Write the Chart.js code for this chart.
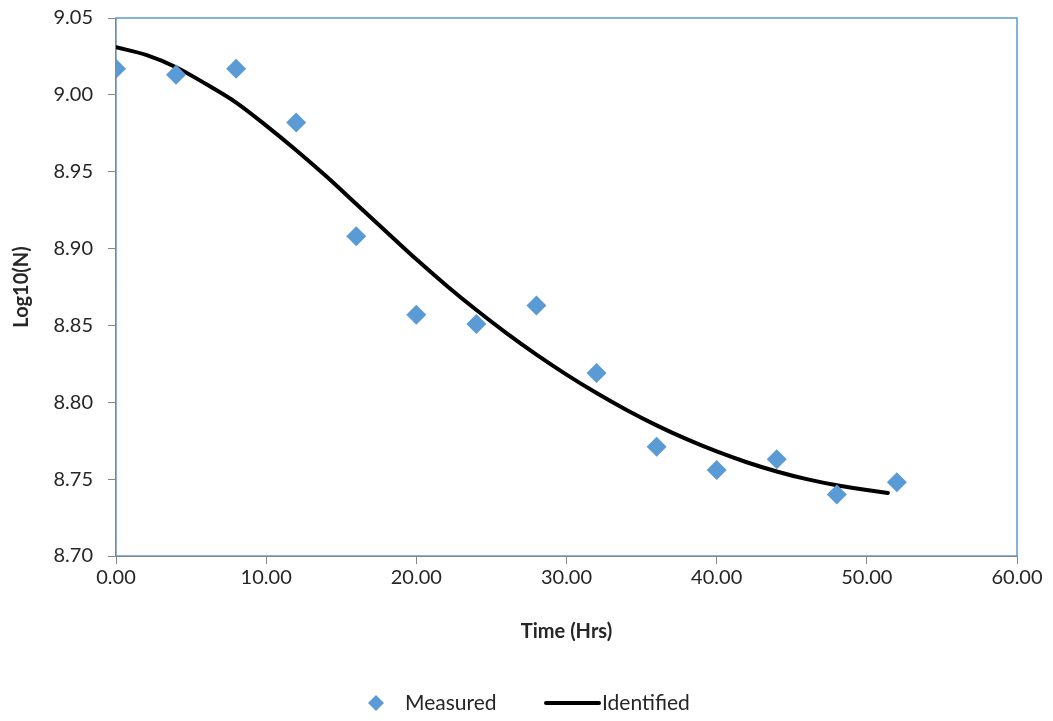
<!DOCTYPE html>
<html>
<head>
<meta charset="utf-8">
<script src="https://cdn.jsdelivr.net/npm/chart.js@4"></script>
<style>
  html, body { margin: 0; padding: 0; background: #fff; }
  #wrap { width: 1053px; height: 721px; }
</style>
</head>
<body>
<div id="wrap"><canvas id="chart" width="1053" height="721"></canvas></div>
<script>
// measured points
var measuredTime = [0, 4, 8, 12, 16, 20, 24, 28, 32, 36, 40, 44, 48, 52];
var measuredLog = [9.017, 9.013, 9.017, 8.982, 8.908, 8.857, 8.851, 8.863, 8.819, 8.771, 8.756, 8.763, 8.740, 8.748];

// identified (model) curve
var modelTime = [0, 2, 4, 6, 8, 10, 12, 14, 16, 18, 20, 22, 24, 26, 28, 30, 32, 34, 36, 38, 40, 42, 44, 46, 48, 50, 51.4];
var modelLog = [9.031, 9.026, 9.018, 9.007, 8.995, 8.980, 8.964, 8.947, 8.929, 8.911, 8.893, 8.876, 8.860, 8.845, 8.831, 8.818, 8.806, 8.795, 8.785, 8.776, 8.768, 8.761, 8.755, 8.750, 8.746, 8.743, 8.741];

var seriesNames = ["Measured", "Identified"];

var xTitle = "Time (Hrs)";
var yTitle = "Log10(N)";

function toPoints(xs, ys) {
    var pts = [];
    for (var i = 0; i < xs.length; i++)
        pts.push({x: xs[i], y: ys[i]});
    return pts;
}

var blue = "#5B9BD5";
var axisGrey = "#868686";
var textColor = "#262626";
var fontName = "Lato, 'Open Sans', sans-serif";

// blue frame round the plot area, grey axis lines on left and bottom
var frame = {
    id: "frame",
    beforeDatasetsDraw: function(chart) {
        var a = chart.chartArea, c = chart.ctx;
        c.save();
        c.strokeStyle = blue;
        c.lineWidth = 1.5;
        c.strokeRect(a.left, a.top, a.right - a.left, a.bottom - a.top);
        c.strokeStyle = axisGrey;
        c.lineWidth = 1;
        c.beginPath();
        c.moveTo(a.left - 0.5, a.top);
        c.lineTo(a.left - 0.5, a.bottom + 0.5);
        c.lineTo(a.right, a.bottom + 0.5);
        c.stroke();
        c.restore();
    }
};

// legend drawn below the x axis title, like the spreadsheet one
var legendBox = {
    id: "legendBox",
    afterDraw: function(chart) {
        var c = chart.ctx;
        var y = 703;
        c.save();
        c.font = "21px " + fontName;
        c.textBaseline = "middle";
        // measured: diamond
        c.fillStyle = blue;
        c.beginPath();
        c.moveTo(376, y - 8);
        c.lineTo(384, y);
        c.lineTo(376, y + 8);
        c.lineTo(368, y);
        c.closePath();
        c.fill();
        c.fillStyle = textColor;
        c.fillText(seriesNames[0], 405, y);
        // identified: line
        c.strokeStyle = "#000";
        c.lineWidth = 4;
        c.lineCap = "round";
        c.beginPath();
        c.moveTo(546, y);
        c.lineTo(599, y);
        c.stroke();
        c.fillText(seriesNames[1], 602, y);
        c.restore();
    }
};

var ctx = document.getElementById("chart").getContext("2d");
var chart = new Chart(ctx, {
    type: "scatter",
    data: {
        datasets: [{
            label: seriesNames[0],
            data: toPoints(measuredTime, measuredLog),
            pointStyle: "rectRot",
            pointRadius: 10,
            backgroundColor: blue,
            borderColor: blue,
            borderWidth: 0,
            order: 1
        }, {
            label: seriesNames[1],
            data: toPoints(modelTime, modelLog),
            showLine: true,
            borderColor: "#000",
            backgroundColor: "#000",
            borderWidth: 4,
            pointRadius: 0,
            cubicInterpolationMode: "monotone",
            borderCapStyle: "round",
            order: 2
        }]
    },
    options: {
        responsive: false,
        animation: false,
        layout: { padding: { left: 0, right: 36, top: 18, bottom: 75 } },
        plugins: {
            tooltip: { enabled: false },
            legend: { display: false }
        },
        scales: {
            x: {
                type: "linear",
                min: 0, max: 60,
                border: { display: false },
                grid: { drawOnChartArea: false, color: axisGrey, tickLength: 8 },
                ticks: {
                    stepSize: 10, color: textColor, padding: 2,
                    font: { family: fontName, size: 20 },
                    callback: function(v) { return v.toFixed(2); }
                },
                title: {
                    display: true, text: xTitle, color: textColor,
                    font: { family: fontName, size: 20, weight: "bold" },
                    padding: { top: 0, bottom: 2 }
                },
                afterFit: function(axis) { axis.height = 90; }
            },
            y: {
                min: 8.70, max: 9.05,
                border: { display: false },
                grid: { drawOnChartArea: false, color: axisGrey, tickLength: 8 },
                ticks: {
                    stepSize: 0.05, color: textColor, padding: 15,
                    font: { family: fontName, size: 20 },
                    callback: function(v) { return v.toFixed(2); }
                },
                title: {
                    display: true, text: yTitle, color: textColor,
                    font: { family: fontName, size: 20, weight: "bold" },
                    padding: { top: 10, bottom: 0 }
                },
                afterFit: function(axis) {
                    axis.width = 116;
                    // the tick padding shouldn't push the plot area down
                    axis.paddingTop = 0;
                    axis.paddingBottom = 0;
                }
            }
        }
    },
    plugins: [frame, legendBox]
});
</script>
</body>
</html>
